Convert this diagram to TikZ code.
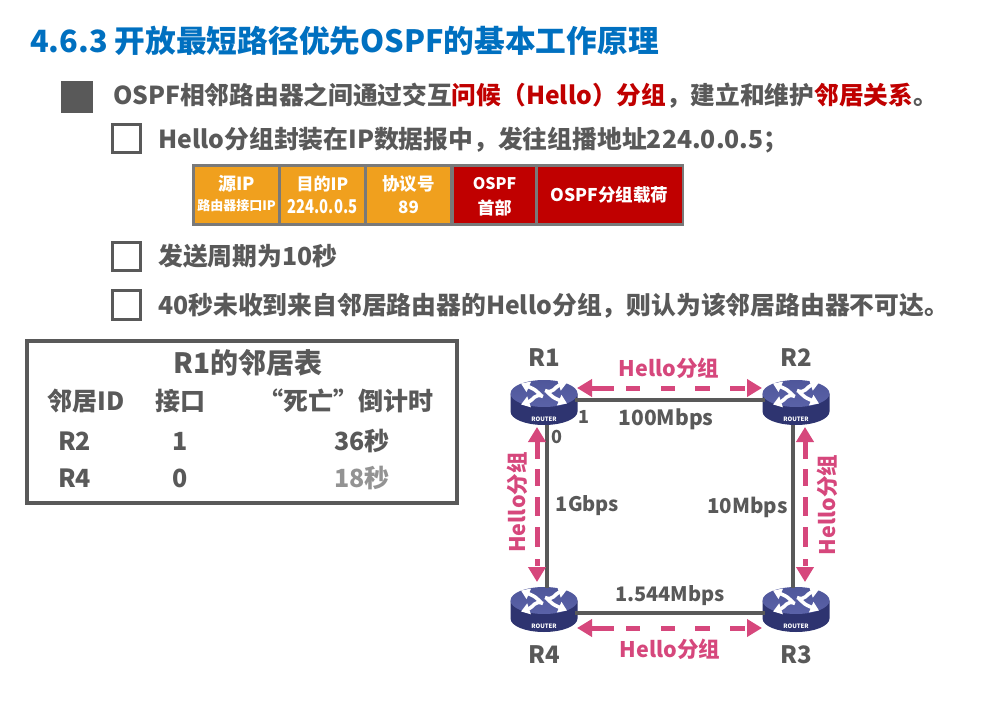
\documentclass[tikz,border=0pt]{standalone}
\usepackage{fontspec}
\setmainfont{Noto Sans CJK SC}
\usetikzlibrary{arrows.meta,shapes.geometric,calc}
\definecolor{tgray}{HTML}{595959}
\definecolor{tblue}{HTML}{0070C0}
\definecolor{tred}{HTML}{C00000}
\definecolor{tpink}{HTML}{D6477C}
\definecolor{torange}{HTML}{F0A01E}
\definecolor{rtop}{HTML}{5A62A8}
\definecolor{rside}{HTML}{2E3470}
\newcommand{\fsz}[1]{\fontsize{#1}{#1}\selectfont\bfseries}
\tikzset{
  x=1pt,y=-1pt,
  txt/.style={inner sep=0pt,anchor=base west,text=tgray,font=\fsz{24.8}},
  ctr/.style={inner sep=0pt,anchor=center,text=tgray,font=\fsz{25}},
  lbl/.style={inner sep=0pt,anchor=center,text=tpink,font=\fsz{21.5}},
  hollow/.style={draw=tgray,line width=3pt,fill=white,minimum size=28.5pt,inner sep=0pt},
  solid box/.style={draw=none,fill=tgray,minimum size=32pt,inner sep=0pt},
  ctxt/.style={inner sep=0pt,text=white,font=\fsz{17}},
  link/.style={draw=tgray,line width=3.5pt},
  hellobase/.style={draw=tpink,line width=5pt,
     {Triangle[length=15pt,width=17pt]}-{Triangle[length=15pt,width=17pt]}},
  helloh/.style={hellobase,dash pattern=on 23pt off 12pt on 14pt off 21pt on 14pt off 20pt on 15pt off 20pt on 15pt off 100pt},
  hellov/.style={hellobase,dash pattern=on 18pt off 10pt on 17pt off 11pt on 19pt off 11pt on 20pt off 12pt on 7pt off 100pt},
  rface/.style={ellipse,draw=none,top color=rtop!75!rside,bottom color=rtop,minimum width=67pt,minimum height=27pt,inner sep=0pt},
  iconarrow/.style={draw=white,line width=3.6pt,-{Triangle[length=8.5pt,width=11pt]}},
  routerdeco/.pic={
    \fill[rside] (-33.5,0) -- (-33.5,18) arc[start angle=180,end angle=360,x radius=33.5,y radius=-13.5] -- (33.5,0) -- cycle;
  },
  routericon/.pic={
    \draw[iconarrow] (-3,2) .. controls (-9,-4) .. (-23,-10);
    \draw[iconarrow] (1,-3) .. controls (9,1) and (11,-7) .. (23,-11);
    \draw[iconarrow] (-1,3) .. controls (-9,-1) and (-11,7) .. (-23,11);
    \draw[iconarrow] (3,-2) .. controls (9,4) .. (23,10);
    \node[inner sep=0pt,text=white,font=\fsz{6}] at (0,26) {ROUTER};
  }
}
\begin{document}
\begin{tikzpicture}
\useasboundingbox (0,0) rectangle (993,703);
\fill[white] (0,0) rectangle (993,703);

% title
\node[txt,text=tblue,font=\fsz{30.7}] (title) at (30,53) {4.6.3 开放最短路径优先OSPF的基本工作原理};

% bullets
\node[solid box] (b0) at (77,97) {};
\node[hollow] (b1) at (126.5,138.5) {};
\node[hollow] (b2) at (126.5,256.5) {};
\node[hollow] (b3) at (126.5,305) {};

\node[txt,font=\fsz{24.7}] (t0) at (113,105) {OSPF相邻路由器之间通过交互\textcolor{tred}{问候（Hello）分组}，建立和维护\textcolor{tred}{邻居关系}。};
\node[txt] (t1) at (158,149) {Hello分组封装在IP数据报中，发往组播地址224.0.0.5；};
\node[txt] (t2) at (158,266) {发送周期为10秒};
\node[txt] (t3) at (158,315) {40秒未收到来自邻居路由器的Hello分组，则认为该邻居路由器不可达。};

% packet
\fill[gray!95!black] (192,164) rectangle (684,226);
\fill[torange] (195,167) rectangle (278,223);
\fill[torange] (281,167) rectangle (364,223);
\fill[torange] (367,167) rectangle (450,223);
\fill[tred] (454,167) rectangle (535,223);
\fill[tred] (538,167) rectangle (682,223);
\node[ctxt,font=\fsz{18}] (c1a) at (236.5,184) {源IP};
\node[ctxt,font=\fsz{13}] (c1b) at (236.5,206) {路由器接口IP};
\node[ctxt] (c2a) at (322.5,184) {目的IP};
\node[ctxt,font=\fsz{19},xscale=0.78] (c2b) at (322.5,207) {224.0.0.5};
\node[ctxt,font=\fsz{17.5}] (c3a) at (408.5,184) {协议号};
\node[ctxt] (c3b) at (408.5,207) {89};
\node[ctxt,font=\fsz{16}] (c4a) at (494.5,184) {OSPF};
\node[ctxt] (c4b) at (494.5,208) {首部};
\node[ctxt,font=\fsz{17.5}] (c5) at (609.5,195) {OSPF分组载荷};

% neighbour table
\draw[draw=tgray,line width=4pt] (27,341) rectangle (457,503);
\node[ctr,font=\fsz{28}] (th) at (248,363) {R1的邻居表};
\node[ctr] (h1) at (86,401) {邻居ID};
\node[ctr] (h2) at (180.5,401) {接口};
\node[ctr] (h3) at (346,401) {“死亡”倒计时};
\node[ctr] (r1a) at (74.5,441) {R2};
\node[ctr] (r1b) at (180,441) {1};
\node[ctr] (r1c) at (362,441) {36秒};
\node[ctr] (r2a) at (74.5,478) {R4};
\node[ctr] (r2b) at (180,478) {0};
\node[ctr,text=gray!85] (r2c) at (362,478) {18秒};

% routers
\pic at (544,393.5) {routerdeco};
\pic at (796,393.5) {routerdeco};
\pic at (544,600.5) {routerdeco};
\pic at (796,600.5) {routerdeco};
\node[rface] (R1) at (544,393.5) {};
\node[rface] (R2) at (796,393.5) {};
\node[rface] (R4) at (544,600.5) {};
\node[rface] (R3) at (796,600.5) {};

% links
\draw[link] ($(R1.center)+(31,6.5)$) -- ($(R2.center)+(-31,6.5)$);
\draw[link] ($(R4.center)+(31,12.5)$) -- ($(R3.center)+(-31,12.5)$);
\draw[link] ($(R1.center)+(3,31)$) -- ($(R4.center)+(3,-13)$);
\draw[link] ($(R2.center)+(-3,31)$) -- ($(R3.center)+(-3,-13)$);

\pic at (R1.center) {routericon};
\pic at (R2.center) {routericon};
\pic at (R4.center) {routericon};
\pic at (R3.center) {routericon};

% hello arrows
\coordinate (a1) at (577,388);
\coordinate (a2) at (762,388);
\coordinate (b1p) at (577,628);
\coordinate (b2p) at (762,628);
\coordinate (c1p) at (537,427);
\coordinate (c2p) at (537,582);
\coordinate (d1p) at (805,427);
\coordinate (d2p) at (805,582);
\draw[helloh] (a1) -- (a2);
\draw[helloh] (b1p) -- (b2p);
\draw[hellov] (c1p) -- (c2p);
\draw[hellov] (d1p) -- (d2p);

% labels
\node[ctr,font=\fsz{24}] (n1) at (544,358) {R1};
\node[ctr,font=\fsz{24}] (n2) at (796,358) {R2};
\node[ctr,font=\fsz{24}] (n4) at (544,655) {R4};
\node[ctr,font=\fsz{24}] (n3) at (796,655) {R3};
\node[lbl] (l1) at (669,368) {Hello分组};
\node[lbl] (l2) at (670,649) {Hello分组};
\node[lbl,rotate=90] (l3) at (517,502.5) {Hello分组};
\node[lbl,rotate=90] (l4) at (827,505) {Hello分组};
\node[ctr,font=\fsz{21}] (s1) at (666,419) {100Mbps};
\node[ctr,font=\fsz{20}] (s2) at (587.5,506) {1Gbps};
\node[ctr,font=\fsz{20.5}] (s3) at (747.5,507) {10Mbps};
\node[ctr,font=\fsz{20}] (s4) at (670,596) {1.544Mbps};
\node[ctr,font=\fsz{18}] (p1) at (584,417) {1};
\node[ctr,font=\fsz{18}] (p0) at (557,437) {0};
\end{tikzpicture}
\end{document}
